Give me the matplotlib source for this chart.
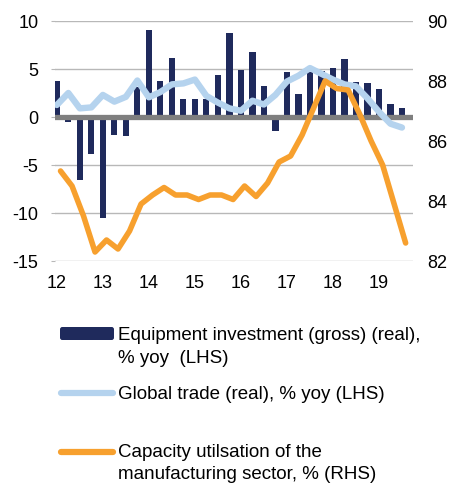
import matplotlib
matplotlib.use('Agg')
import matplotlib.pyplot as plt
import numpy as np
from matplotlib.lines import Line2D
from matplotlib.patches import FancyBboxPatch

plt.rcParams['font.family'] = ['Liberation Sans', 'DejaVu Sans']
plt.rcParams['axes.unicode_minus'] = False

# ---- data -------------------------------------------------------------
quarters = ["2012Q1", "2012Q2", "2012Q3", "2012Q4",
            "2013Q1", "2013Q2", "2013Q3", "2013Q4",
            "2014Q1", "2014Q2", "2014Q3", "2014Q4",
            "2015Q1", "2015Q2", "2015Q3", "2015Q4",
            "2016Q1", "2016Q2", "2016Q3", "2016Q4",
            "2017Q1", "2017Q2", "2017Q3", "2017Q4",
            "2018Q1", "2018Q2", "2018Q3", "2018Q4",
            "2019Q1", "2019Q2", "2019Q3"]

equipment_investment = [3.8, -0.5, -6.6, -3.85, -10.5, -1.9, -2.0, 3.1,
                        9.1, 3.7, 6.1, 1.9, 1.9, 1.9, 4.4, 8.7,
                        4.9, 6.8, 3.2, -1.5, 4.7, 2.4, 4.7, 4.8,
                        5.1, 6.0, 3.6, 3.5, 2.9, 1.35, 0.9]

global_trade = [1.25, 2.5, 0.9, 1.0, 2.3, 1.6, 2.1, 3.8,
                2.05, 2.6, 3.4, 3.5, 3.9, 2.2, 1.5, 0.9,
                0.65, 1.7, 1.3, 2.3, 3.7, 4.3, 5.1, 4.5,
                3.9, 3.4, 3.2, 1.95, 0.55, -0.7, -1.1]

capacity_utilisation = [85.0, 84.5, 83.5, 82.3, 82.7, 82.4, 83.0, 83.9,
                        84.2, 84.45, 84.2, 84.2, 84.05, 84.2, 84.2, 84.05,
                        84.5, 84.15, 84.6, 85.3, 85.5, 86.2, 87.1, 88.0,
                        87.75, 87.7, 86.9, 86.0, 85.2, 83.9, 82.6]

year_ticks = [2012, 2013, 2014, 2015, 2016, 2017, 2018, 2019]
year_labels = ["12", "13", "14", "15", "16", "17", "18", "19"]
lhs_ticks = [-15, -10, -5, 0, 5, 10]
rhs_ticks = [82, 84, 86, 88, 90]

legend_labels = [["Equipment investment (gross) (real),", "% yoy  (LHS)"],
                 ["Global trade (real), % yoy (LHS)"],
                 ["Capacity utilsation of the", "manufacturing sector, % (RHS)"]]

# ---- styling ----------------------------------------------------------
NAVY = '#1f2a5c'
LIGHT = '#b5d3ee'
ORANGE = '#f7a02e'
GRID = '#b8b8b8'
ZERO = '#7f7f7f'
FS = 13
LFS = 13.5

W, H = 451, 483
fig = plt.figure(figsize=(W / 100, H / 100), dpi=100)
ax = fig.add_axes([55 / W, 1 - 261 / H, (413 - 55) / W, (261 - 21) / H])

x = np.array([int(q[:4]) + (int(q[-1]) - 1) / 4 for q in quarters])

ax.bar(x, equipment_investment, width=0.135, color=NAVY, zorder=2)
ax.axhline(0, color=ZERO, lw=3.8, zorder=3)
ax.plot(x, global_trade, color=LIGHT, lw=4.6, zorder=4,
        solid_capstyle='round', solid_joinstyle='round')

ax.set_ylim(-15, 10)
ax.set_yticks(lhs_ticks)
ax.set_xlim(2011.96, 2019.74)
ax.set_xticks(year_ticks)
ax.set_xticklabels(year_labels)
ax.grid(axis='y', color=GRID, lw=1)
ax.set_axisbelow(True)
for s in ax.spines.values():
    s.set_visible(False)
ax.tick_params(axis='y', length=3, color=GRID, pad=9, labelsize=FS)
ax.tick_params(axis='x', length=0, pad=10, labelsize=FS)

ax2 = ax.twinx()
ax2.plot(x + 0.08, capacity_utilisation, color=ORANGE, lw=4, zorder=5,
         solid_capstyle='round', solid_joinstyle='round')
ax2.set_ylim(82, 90)
ax2.set_yticks(rhs_ticks)
for s in ax2.spines.values():
    s.set_visible(False)
ax2.tick_params(axis='y', length=0, pad=10, labelsize=FS)

# ---- legend (manual) --------------------------------------------------
def fy(px):
    return 1 - px / H

def fx(px):
    return px / W

rect = FancyBboxPatch((fx(60), fy(340)), fx(114) - fx(60), fy(327) - fy(340),
                      boxstyle='round,pad=0,rounding_size=0.005',
                      transform=fig.transFigure, facecolor=NAVY, edgecolor='none')
fig.add_artist(rect)
fig.add_artist(Line2D([fx(61), fx(113)], [fy(393), fy(393)], color=LIGHT, lw=4.5,
                      solid_capstyle='round', transform=fig.transFigure))
fig.add_artist(Line2D([fx(61), fx(113)], [fy(452), fy(452)], color=ORANGE, lw=4.5,
                      solid_capstyle='round', transform=fig.transFigure))

baselines = [[340, 363], [399], [457, 479]]
for lines, bls in zip(legend_labels, baselines):
    for txt, b in zip(lines, bls):
        fig.text(fx(118), fy(b), txt, fontsize=LFS, va='baseline', ha='left')

fig.savefig('out.png', dpi=100)
